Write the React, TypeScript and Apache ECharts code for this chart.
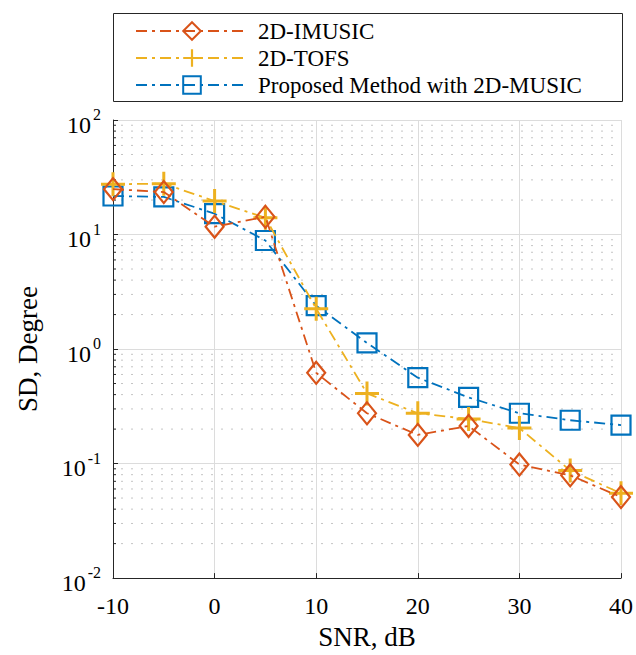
import React, { useEffect, useRef } from "react";
import * as echarts from "echarts";

const snr = [-10, -5, 0, 5, 10, 15, 20, 25, 30, 35, 40];
const imusic = [24.9, 23.5, 11.7, 14.3, 0.62, 0.275, 0.178, 0.213, 0.098, 0.079, 0.051];
const tofs = [27.5, 27.8, 19.6, 14.0, 2.25, 0.41, 0.275, 0.245, 0.204, 0.087, 0.055];
const proposed = [21.7, 21.3, 15.2, 8.87, 2.39, 1.13, 0.562, 0.378, 0.275, 0.239, 0.217];
const decades = [0.01, 0.1, 1, 10];
const minorMultipliers = [2, 3, 4, 5, 6, 7, 8, 9];
const xTicks = [-10, 0, 10, 20, 30, 40];

const FONT = "'Liberation Serif', 'Times New Roman', serif";
const ORANGE = "#D95319";
const YELLOW = "#EDB120";
const BLUE = "#0072BD";
const DASH = [11, 5, 3, 5];

const PLUS =
  "path://M8.75,0 L11.25,0 L11.25,8.75 L20,8.75 L20,11.25 L11.25,11.25 L11.25,20 L8.75,20 L8.75,11.25 L0,11.25 L0,8.75 L8.75,8.75 Z";

export default function App() {
  const ref = useRef<HTMLDivElement>(null);
  useEffect(() => {
    if (!ref.current) return;
    const chart = echarts.init(ref.current, null, { renderer: "svg" });
    const minorValues: number[] = [];
    decades.forEach((d) => minorMultipliers.forEach((m) => minorValues.push(+(d * m).toPrecision(3))));
    const xMin = xTicks[0];
    const xMax = xTicks[xTicks.length - 1];

    const mk = (v: number[]) => snr.map((x, i) => [x, v[i]]);

    chart.setOption({
      animation: false,
      backgroundColor: "#fff",
      textStyle: { fontFamily: FONT },
      grid: { left: 113, right: 14, top: 120, bottom: 72, containLabel: false },
      graphic: [
        {
          type: "rect",
          shape: { x: 113.5, y: 13.5, width: 509, height: 88 },
          style: { fill: "#fff", stroke: "#262626", lineWidth: 1 },
          z: 0,
        },
      ],
      legend: {
        orient: "vertical",
        left: 130,
        top: 13,
        itemWidth: 112,
        itemHeight: 22,
        itemGap: 1,
        data: ["2D-IMUSIC", "2D-TOFS", "Proposed Method with 2D-MUSIC"],
        textStyle: {
          fontFamily: FONT,
          fontSize: 23,
          lineHeight: 26,
          color: "#000",
          padding: [0, 0, 0, 5],
        },
        z: 5,
      },
      xAxis: {
        type: "value",
        min: xMin,
        max: xMax,
        interval: 10,
        axisLine: { onZero: false, lineStyle: { color: "#262626", width: 1 } },
        axisTick: { show: true, inside: true, length: 5, lineStyle: { color: "#262626" } },
        axisLabel: { fontFamily: FONT, fontSize: 24, color: "#000", margin: 16 },
        splitLine: { show: true, lineStyle: { color: "#dcdcdc", width: 1 } },
        name: "SNR, dB",
        nameLocation: "middle",
        nameGap: 40,
        nameTextStyle: { fontFamily: FONT, fontSize: 27, color: "#000" },
      },
      yAxis: {
        type: "log",
        logBase: 10,
        min: 0.01,
        max: 100,
        splitNumber: 4,
        axisLine: { show: true, onZero: false, lineStyle: { color: "#262626", width: 1 } },
        axisTick: { show: true, inside: true, length: 5, lineStyle: { color: "#262626" } },
        axisLabel: {
          fontFamily: FONT,
          color: "#000",
          margin: 12,
          formatter: (v: number) => `{b|10}{s|${Math.round(Math.log10(v))}}`,
          rich: {
            b: { fontFamily: FONT, fontSize: 24, color: "#000", padding: [9, 0, 0, 0] },
            s: { fontFamily: FONT, fontSize: 16, color: "#000", padding: [0, 0, 11, 2] },
          },
        },
        splitLine: { show: true, lineStyle: { color: "#dcdcdc", width: 1 } },
        name: "SD, Degree",
        nameLocation: "middle",
        nameGap: 72,
        nameTextStyle: { fontFamily: FONT, fontSize: 27, color: "#000" },
      },
      series: [
        {
          type: "custom",
          name: "minor",
          silent: true,
          z: 1,
          data: minorValues.map((v) => [xMin, v]),
          encode: { x: 0, y: 1 },
          renderItem: (params: any, api: any) => {
            const v = api.value(1);
            const p0 = api.coord([xMin, v]);
            const p1 = api.coord([xMax, v]);
            return {
              type: "group",
              children: [
                {
                  type: "line",
                  shape: { x1: p0[0] + 8, y1: p0[1], x2: p1[0], y2: p1[1] },
                  style: { stroke: "#c4c4c4", lineWidth: 1, lineDash: [2, 8] },
                },
                {
                  type: "line",
                  shape: { x1: p0[0], y1: p0[1], x2: p0[0] + 3, y2: p0[1] },
                  style: { stroke: "#262626", lineWidth: 1 },
                },
              ],
            };
          },
        },
        {
          name: "2D-IMUSIC",
          type: "line",
          data: mk(imusic),
          symbol: "diamond",
          symbolSize: [18, 22],
          z: 4,
          lineStyle: { color: ORANGE, width: 1.8, type: DASH },
          itemStyle: { color: "rgba(0,0,0,0)", borderColor: ORANGE, borderWidth: 2.2 },
        },
        {
          name: "2D-TOFS",
          type: "line",
          data: mk(tofs),
          symbol: PLUS,
          symbolSize: 24,
          z: 3,
          lineStyle: { color: YELLOW, width: 1.8, type: DASH },
          itemStyle: { color: YELLOW, borderWidth: 0 },
        },
        {
          name: "Proposed Method with 2D-MUSIC",
          type: "line",
          data: mk(proposed),
          symbol: "rect",
          symbolSize: 19,
          z: 2,
          lineStyle: { color: BLUE, width: 1.8, type: DASH },
          itemStyle: { color: "rgba(0,0,0,0)", borderColor: BLUE, borderWidth: 2.2 },
        },
      ],
    });
    return () => chart.dispose();
  }, []);
  return (
    <div
      ref={ref}
      style={{ position: "fixed", left: 0, top: 0, width: 636, height: 655 }}
    />
  );
}
